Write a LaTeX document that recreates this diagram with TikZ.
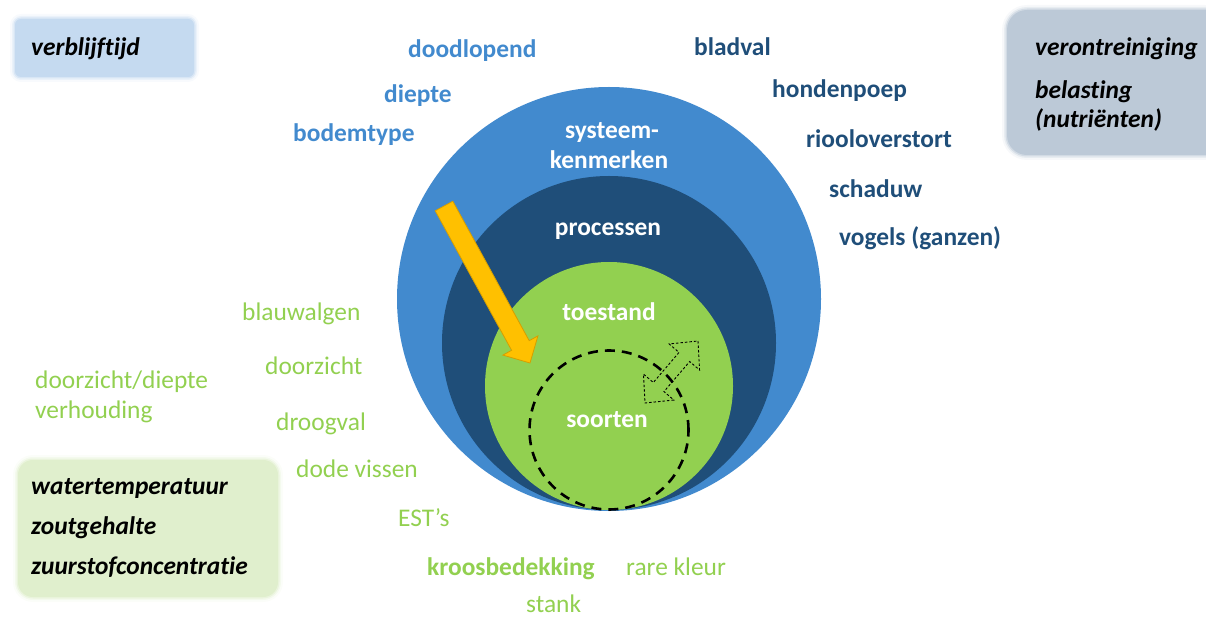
\documentclass[tikz,border=0pt]{standalone}
\usepackage{fontspec}
\setmainfont{Carlito}[Ligatures={NoCommon}]
\definecolor{skyblue}{RGB}{66,138,206}
\definecolor{navy}{RGB}{31,78,121}
\definecolor{leaf}{RGB}{146,208,80}
\definecolor{amber}{RGB}{255,192,0}
\definecolor{amberedge}{RGB}{214,158,0}
\definecolor{boxblue}{RGB}{197,218,240}
\definecolor{boxgrey}{RGB}{188,201,215}
\definecolor{boxgreen}{RGB}{224,239,205}
\tikzset{
  lbl/.style={font=\fontsize{25.5}{30}\selectfont, anchor=mid west, inner sep=0pt, yshift=-5.5bp},
  outerlbl/.style={lbl, font=\fontsize{25.5}{30}\selectfont\bfseries, text=skyblue},
  navylbl/.style={lbl, font=\fontsize{25.5}{30}\selectfont\bfseries, text=navy},
  greenlbl/.style={lbl, text=leaf},
  greenbold/.style={lbl, font=\fontsize{25.5}{30}\selectfont\bfseries, text=leaf},
  boxlbl/.style={lbl, font=\fontsize{25.5}{30}\selectfont\bfseries\itshape, text=black},
  ringlbl/.style={font=\fontsize{25.5}{27}\selectfont\bfseries, text=white, inner sep=0pt, align=center, yshift=-3bp},
  ring/.style={circle, inner sep=0pt, draw=none},
}
\begin{document}
\begin{tikzpicture}[x=1bp, y=-1bp]
\useasboundingbox (0,0) rectangle (1206,618);
\begin{scope}
\clip (0,0) rectangle (1206,618);

% soft-edged boxes
\foreach \g/\o in {5/0.12, 3/0.25, 1.5/0.5}{
  \fill[boxblue, opacity=\o, rounded corners=6+\g] (15-\g,19-\g) rectangle (194+\g,77+\g);
  \fill[boxgrey, opacity=\o, rounded corners=20+\g] (1007-\g,10-\g) rectangle (1230,155+\g);
  \fill[boxgreen, opacity=\o, rounded corners=15+\g] (18-\g,460-\g) rectangle (278+\g,597+\g);
}
\fill[boxblue, rounded corners=6] (15,19) rectangle (194,77);
\fill[boxgrey, rounded corners=20] (1007,10) rectangle (1230,155);
\fill[boxgreen, rounded corners=15] (18,460) rectangle (278,597);

% nested circles
\node[ring, fill=skyblue, minimum size=424bp] (system) at (609,299) {};
\node[ring, fill=navy, minimum size=334bp] (process) at (609,343) {};
\node[ring, fill=leaf, minimum size=248bp] (state) at (609,386) {};

% ring labels
\node[ringlbl] (sys1) at (612,129) {systeem-};
\node[ringlbl] (sys2) at (609,157) {kenmerken};
\node[ringlbl] (proc) at (608,228) {processen};
\node[ringlbl] (toe) at (609,309) {toestand};
\node[ringlbl] (soo) at (607,417) {soorten};

% yellow arrow into the state circle
\draw[amberedge, fill=amber, line width=0.8bp, line join=miter]
  (435.2,210.8) -- (452.8,201.2) -- (529.2,340.7) -- (537.9,335.9)
  -- (530,363) -- (502.9,355.1) -- (511.6,350.3) -- cycle;

% dashed double arrow
\draw[black, line width=0.9bp, dash pattern=on 2.5bp off 2bp]
  (698,341) -- (699.55,369.96) -- (689.67,361.51) -- (663.97,391.59) -- (673.85,400.04)
  -- (645,403) -- (643.45,374.04) -- (653.33,382.49) -- (679.03,352.41) -- (669.15,343.96) -- cycle;

% species circle
\node[ring, draw=black, line width=2.6bp, dash pattern=on 10bp off 7bp, minimum size=159bp] (species) at (609,430) {};

% system characteristics
\node[outerlbl] (t1) at (408,50) {doodlopend};
\node[outerlbl] (t2) at (384,95) {diepte};
\node[outerlbl] (t3) at (293,134) {bodemtype};

% pressures
\node[navylbl] (p1) at (694,48) {bladval};
\node[navylbl] (p2) at (772,90) {hondenpoep};
\node[navylbl] (p3) at (806,140) {riooloverstort};
\node[navylbl] (p4) at (829,190) {schaduw};
\node[navylbl] (p5) at (839,238) {vogels (ganzen)};

% signals
\node[greenlbl] (g1) at (242,313) {blauwalgen};
\node[greenlbl] (g2) at (265,367) {doorzicht};
\node[greenlbl] (g3) at (35,381) {doorzicht/diepte};
\node[greenlbl] (g4) at (35,411) {verhouding};
\node[greenlbl] (g5) at (276,423) {droogval};
\node[greenlbl] (g6) at (296,470) {dode vissen};
\node[greenlbl] (g7) at (398,519) {EST’s};
\node[greenbold] (g8) at (427,568) {kroosbedekking};
\node[greenlbl] (g9) at (626,568) {rare kleur};
\node[greenlbl] (g10) at (526,605) {stank};

% box texts
\node[boxlbl] (b1) at (31,48) {verblijftijd};
\node[boxlbl] (b2) at (1035,48) {verontreiniging};
\node[boxlbl] (b3) at (1035,91) {belasting};
\node[boxlbl] (b4) at (1035,120) {(nutriënten)};
\node[boxlbl] (b5) at (31,487) {watertemperatuur};
\node[boxlbl] (b6) at (31,527) {zoutgehalte};
\node[boxlbl] (b7) at (31,567) {zuurstofconcentratie};
\end{scope}
\end{tikzpicture}
\end{document}
